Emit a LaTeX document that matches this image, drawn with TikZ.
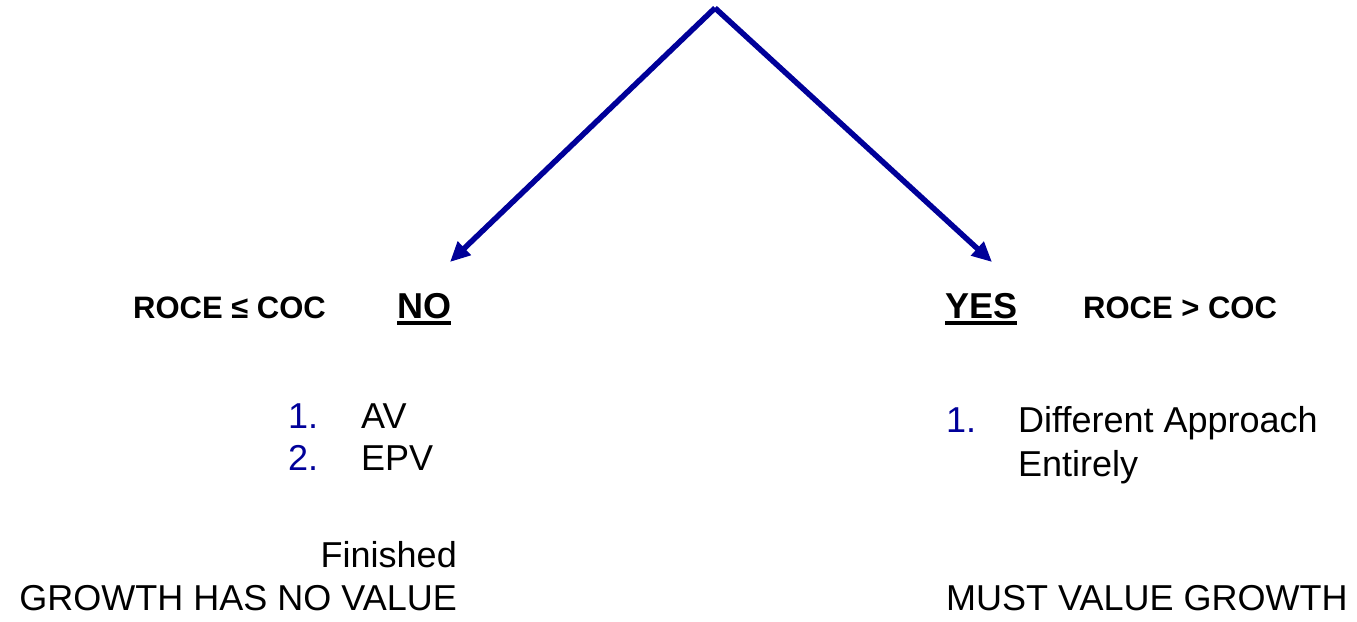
\documentclass[tikz,border=0pt]{standalone}
\usepackage{fontspec}
\setmainfont{Liberation Sans}
\usetikzlibrary{arrows.meta,calc}
\definecolor{navy}{HTML}{000099}
\begin{document}
\begin{tikzpicture}[x=1pt,y=-1pt,
  txt/.style={inner sep=0pt,font=\fontsize{36}{42}\selectfont},
  bld/.style={inner sep=0pt,font=\fontsize{31}{36}\selectfont\bfseries},
  hdr/.style={inner sep=0pt,font=\fontsize{36}{42}\selectfont\bfseries},
  num/.style={txt,text=navy},
  branch/.style={navy,line width=5.5pt,-{Triangle[length=20pt,width=18pt]}},
  uline/.style={line width=3.5pt}]
\useasboundingbox (0,0) rectangle (1357,621);

% fork
\coordinate (top) at (715,8);
\coordinate (noend) at (450,262);
\coordinate (yesend) at (992,262);
\draw[branch] (top) -- (noend);
\draw[branch] (top) -- (yesend);

% left branch
\node[bld,anchor=base west] (lcond) at (133,318) {ROCE ≤ COC};
\node[hdr,anchor=base west] (no) at (397,318) {NO};
\draw[uline] ($(no.base west)+(0,5)$) -- ($(no.base east)+(0,5)$);
\node[num,anchor=base west] (n1) at (288,428) {1.};
\node[txt,anchor=base west] (av) at (361,428) {AV};
\node[num,anchor=base west] (n2) at (288,470) {2.};
\node[txt,anchor=base west] (epv) at (361,470) {EPV};
\node[txt,anchor=base east] (fin) at (457,567) {Finished};
\node[txt,anchor=base east] (nov) at (457,610) {GROWTH HAS NO VALUE};

% right branch
\node[hdr,anchor=base west] (yes) at (945,318) {YES};
\draw[uline] ($(yes.base west)+(0,5)$) -- ($(yes.base east)+(0,5)$);
\node[bld,anchor=base west] (rcond) at (1083,318) {ROCE > COC};
\node[num,anchor=base west] (m1) at (946,432) {1.};
\node[txt,anchor=base west] (diff) at (1018,432) {Different Approach};
\node[txt,anchor=base west] (ent) at (1018,476) {Entirely};
\node[txt,anchor=base west] (must) at (946,610) {MUST VALUE GROWTH};
\end{tikzpicture}
\end{document}
